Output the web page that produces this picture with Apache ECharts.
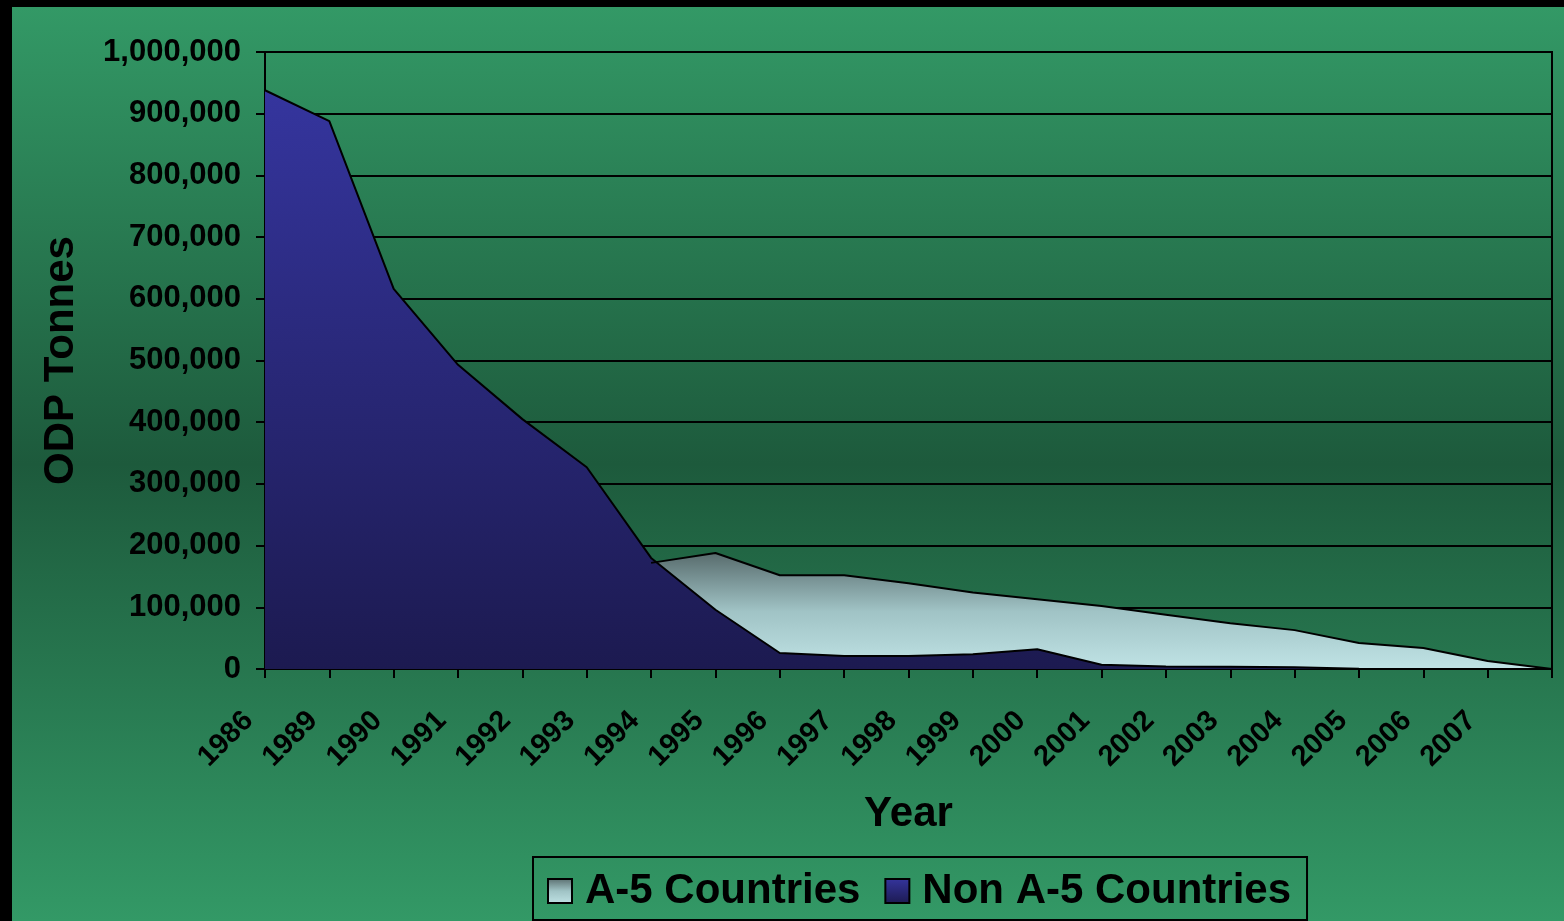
<!DOCTYPE html>
<html>
<head>
<meta charset="utf-8">
<script src="https://cdn.jsdelivr.net/npm/echarts@6/dist/echarts.min.js"></script>
<style>
  html, body { margin: 0; padding: 0; background: #000; width: 1564px; height: 921px; overflow: hidden; }
  #chart {
    position: absolute; left: 12px; top: 7px; width: 1552px; height: 914px;
    background: linear-gradient(to bottom, #339966 0%, #1d5a3c 50%, #339966 100%);
  }
</style>
</head>
<body>
<div id="chart"></div>
<script>
// ---- data ----
const categories = ['1986','1989','1990','1991','1992','1993','1994','1995','1996','1997','1998','1999','2000','2001','2002','2003','2004','2005','2006','2007',''];
const a5Countries = [null,null,null,null,null,null,172000,188000,152000,152000,139000,124000,113000,102000,88000,74000,63000,42000,34000,13000,0];
const nonA5Countries = [938000,888000,616000,493000,405000,327000,180000,96000,26000,21000,21000,24000,32000,7000,4000,3500,3000,500,0,0,0];
const yTicks = { min: 0, max: 1000000, interval: 100000 };
const seriesNames = ['A-5 Countries', 'Non A-5 Countries'];
const axisNames = { x: 'Year', y: 'ODP Tonnes' };

// ---- chart ----
const FONT = '"Liberation Sans", Arial, sans-serif';
const lg = (stops) => new echarts.graphic.LinearGradient(0, 0, 0, 1, stops);
const a5Grad = () => lg([{offset:0,color:'#586c6d'},{offset:0.5,color:'#a0c3c5'},{offset:1,color:'#c0e3e5'}]);
const nonGrad = () => lg([{offset:0,color:'#35359e'},{offset:1,color:'#1c1a50'}]);

function fmt(v) {
  return String(v).replace(/\B(?=(\d{3})+(?!\d))/g, ',');
}

const chart = echarts.init(document.getElementById('chart'), null, { renderer: 'canvas' });
chart.setOption({
  animation: false,
  backgroundColor: 'transparent',
  grid: {
    left: 253, right: 12, top: 45, bottom: 252,
    show: true, borderColor: '#000', borderWidth: 2, backgroundColor: 'transparent'
  },
  legend: {
    left: 521, top: 850,
    padding: [13, 16, 8, 14],
    borderColor: '#000', borderWidth: 2,
    itemWidth: 24, itemHeight: 24, itemGap: 24,
    textStyle: { fontSize: 42, fontWeight: 'bold', color: '#000', fontFamily: FONT, lineHeight: 42, padding: [0,0,0,8] },
    data: [
      { name: seriesNames[0], icon: 'rect', itemStyle: { color: a5Grad(), borderColor: '#000', borderWidth: 2 } },
      { name: seriesNames[1], icon: 'rect', itemStyle: { color: nonGrad(), borderColor: '#000', borderWidth: 2 } }
    ]
  },
  xAxis: {
    type: 'category',
    data: categories,
    boundaryGap: false,
    name: axisNames.x,
    nameLocation: 'middle',
    nameGap: 124,
    nameTextStyle: { fontSize: 42, fontWeight: 'bold', color: '#000', fontFamily: FONT },
    axisLine: { lineStyle: { color: '#000', width: 2 } },
    axisTick: { show: true, length: 9, lineStyle: { color: '#000', width: 2 }, interval: 0 },
    axisLabel: {
      interval: 0, rotate: 45, margin: 31, padding: [0, 23, 0, 0],
      fontSize: 29, fontWeight: 'bold', color: '#000', fontFamily: FONT
    },
    splitLine: { show: false }
  },
  yAxis: {
    type: 'value',
    min: yTicks.min, max: yTicks.max, interval: yTicks.interval,
    name: axisNames.y,
    nameLocation: 'middle',
    nameGap: 183,
    nameRotate: 90,
    nameTextStyle: { fontSize: 42, fontWeight: 'bold', color: '#000', fontFamily: FONT },
    axisLine: { show: true, lineStyle: { color: '#000', width: 2 } },
    axisTick: { show: true, length: 9, lineStyle: { color: '#000', width: 2 } },
    axisLabel: {
      margin: 24, fontSize: 31, fontWeight: 'bold', color: '#000', fontFamily: FONT,
      padding: [10, 0, 0, 0],
      formatter: fmt
    },
    splitLine: { show: true, lineStyle: { color: '#000', width: 2 } }
  },
  series: [
    {
      name: seriesNames[0], type: 'line', data: a5Countries,
      symbol: 'none', showSymbol: false, connectNulls: false,
      lineStyle: { color: '#000', width: 2 },
      itemStyle: { color: '#8fb0b2' },
      areaStyle: { color: a5Grad(), opacity: 1 }
    },
    {
      name: seriesNames[1], type: 'line', data: nonA5Countries,
      symbol: 'none', showSymbol: false,
      lineStyle: { color: '#000', width: 2 },
      itemStyle: { color: '#2a2a80' },
      areaStyle: { color: nonGrad(), opacity: 1 }
    }
  ]
});
</script>
</body>
</html>
